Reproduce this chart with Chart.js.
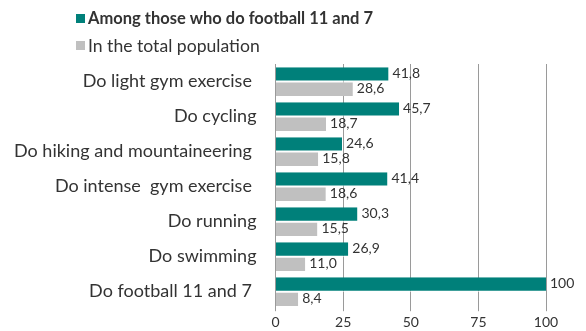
<!DOCTYPE html>
<html>
<head>
<meta charset="utf-8">
<script src="https://cdn.jsdelivr.net/npm/chart.js@4"></script>
<style>
  html, body { margin: 0; padding: 0; background: #ffffff; }
  #wrap { width: 586px; height: 331px; position: relative; }
</style>
</head>
<body>
<div id="wrap"><canvas id="chart"></canvas></div>
<script>
const categories = [
  'Do light gym exercise ',
  'Do cycling',
  'Do hiking and mountaineering ',
  'Do intense  gym exercise ',
  'Do running',
  'Do swimming',
  'Do football 11 and 7 '
];
const footballPlayers = [41.8, 45.7, 24.6, 41.4, 30.3, 26.9, 100];
const totalPopulation = [28.6, 18.7, 15.8, 18.6, 15.5, 11.0, 8.4];
const seriesNames = ['Among those who do football 11 and 7', 'In the total population'];
const xTicks = [0, 25, 50, 75, 100];

const FONT = 'Lato, "Open Sans", sans-serif';
const TEAL = '#00807a';
const GREY = '#c0c0c0';
const TEXT = '#333333';

function fmt(v) {
  return v === 100 ? '100' : v.toFixed(1).replace('.', ',');
}

// Legend drawn in the top padding, first entry bold
const legendPlugin = {
  id: 'topLegend',
  afterDraw(chart) {
    const ctx = chart.ctx;
    const items = chart.data.datasets;
    const rows = [{ y: 18, font: 'bold 16.5px ' + FONT }, { y: 45, font: '17.6px ' + FONT }];
    ctx.save();
    items.forEach((ds, i) => {
      const r = rows[i];
      ctx.fillStyle = ds.backgroundColor;
      ctx.fillRect(76, r.y - 4, 9, 9);
      ctx.fillStyle = TEXT;
      ctx.font = r.font;
      ctx.textBaseline = 'middle';
      ctx.textAlign = 'left';
      ctx.fillText(ds.label, 88, r.y + 1);
    });
    ctx.restore();
  }
};

// Value labels at the end of each bar
const valuePlugin = {
  id: 'valueLabels',
  afterDatasetsDraw(chart) {
    const ctx = chart.ctx;
    ctx.save();
    ctx.font = '14px ' + FONT;
    ctx.fillStyle = TEXT;
    ctx.textAlign = 'left';
    ctx.textBaseline = 'middle';
    chart.data.datasets.forEach((ds, di) => {
      const meta = chart.getDatasetMeta(di);
      meta.data.forEach((bar, i) => {
        ctx.fillText(fmt(ds.data[i]), bar.x + 4, bar.y - (di === 0 ? 1 : 0));
      });
    });
    ctx.restore();
  }
};

new Chart(document.getElementById('chart'), {
  type: 'bar',
  data: {
    labels: categories,
    datasets: [
      { label: seriesNames[0], data: footballPlayers, backgroundColor: TEAL,
        borderColor: '#ffffff', borderWidth: { top: 0, bottom: 1, left: 0, right: 0 },
        categoryPercentage: 0.82, barPercentage: 1.0 },
      { label: seriesNames[1], data: totalPopulation, backgroundColor: GREY,
        borderColor: '#ffffff', borderWidth: { top: 1, bottom: 0, left: 0, right: 0 },
        categoryPercentage: 0.82, barPercentage: 1.0 }
    ]
  },
  options: {
    indexAxis: 'y',
    responsive: true,
    maintainAspectRatio: false,
    animation: false,
    layout: { padding: { top: 64, right: 40, left: 5, bottom: 0 } },
    plugins: { legend: { display: false }, tooltip: { enabled: false } },
    scales: {
      x: {
        min: 0, max: 100,
        afterBuildTicks(axis) { axis.ticks = xTicks.map(v => ({ value: v })); },
        afterFit(axis) { axis.height = 19; },
        grid: { color: '#9a9a9a', lineWidth: 1, drawTicks: true, tickLength: 2 },
        border: { display: false },
        ticks: { color: TEXT, font: { family: FONT, size: 14, lineHeight: 1.0 }, padding: 4 }
      },
      y: {
        grid: { display: false },
        border: { display: false },
        ticks: { color: TEXT, font: { family: FONT, size: 18 }, padding: 11 }
      }
    }
  },
  plugins: [legendPlugin, valuePlugin]
});
</script>
</body>
</html>
